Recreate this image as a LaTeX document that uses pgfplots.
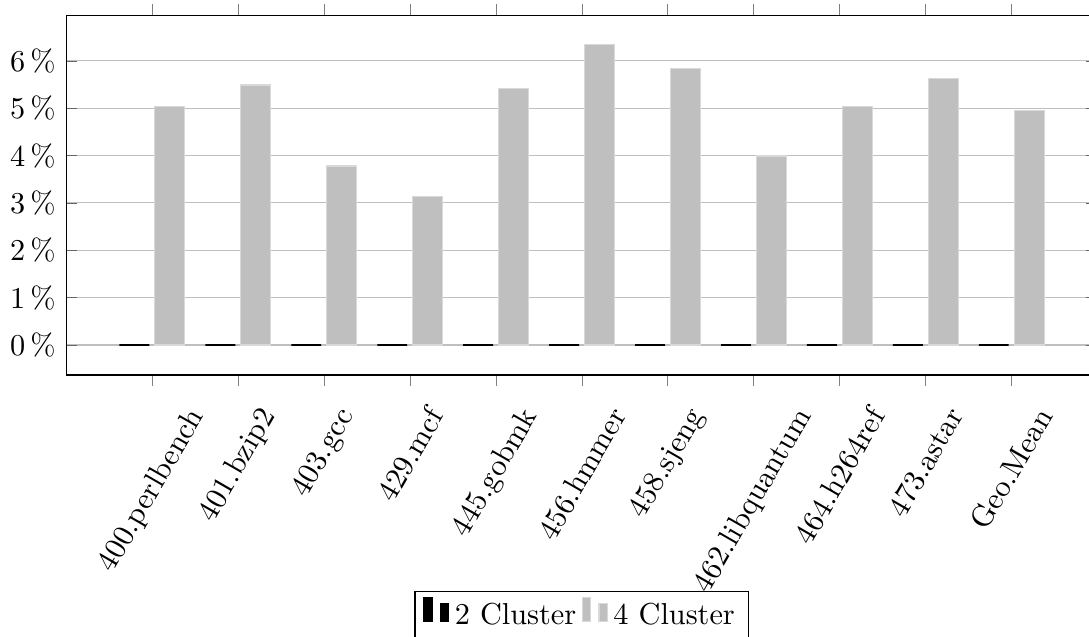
\documentclass[11pt,border=0pt]{standalone}
\usepackage{graphicx}
\usepackage{pgfplots}
\pgfplotsset{compat=1.18}
\newcommand{\rl}[1]{\rotatebox{60}{#1}}
\begin{document}
\begin{tikzpicture}
\begin{axis}[
  width=372.6pt, height=130pt, scale only axis,
  ybar=2pt, bar width=10.8pt,
  xmin=-1, xmax=11,
  ymin=-0.633, ymax=6.963,
  xtick={0,...,10},
  xticklabels={\rl{400.perlbench},\rl{401.bzip2},\rl{403.gcc},\rl{429.mcf},\rl{445.gobmk},\rl{456.hmmer},\rl{458.sjeng},\rl{462.libquantum},\rl{464.h264ref},\rl{473.astar},\rl{Geo.Mean}},
  xticklabel style={anchor=north, yshift=-3pt},
  xtick align=outside,
  ytick={0,...,6},
  yticklabel={\pgfmathprintnumber{\tick}\,\%},
  ytick style={draw=black!60},
  ymajorgrids,
  major grid style={black!25},
  major tick length=4pt,
  legend style={at={(0.5,-0.6)}, anchor=north, legend columns=-1},
]
\addplot[draw=black, fill=black] coordinates {(0,0) (1,0) (2,0) (3,0) (4,0) (5,0) (6,0) (7,0) (8,0) (9,0) (10,0)};
\addplot[draw=black!15, fill=black!25] coordinates {(0,5.04) (1,5.49) (2,3.78) (3,3.13) (4,5.41) (5,6.34) (6,5.83) (7,3.99) (8,5.04) (9,5.62) (10,4.95)};
\legend{2 Cluster, 4 Cluster}
\end{axis}
\coordinate (A) at (current bounding box.south west);
\coordinate (B) at (current bounding box.north east);
\pgfresetboundingbox
\useasboundingbox ([yshift=1.5pt]A) rectangle ([xshift=-3.25pt,yshift=1.4pt]B);
\end{tikzpicture}
\end{document}
